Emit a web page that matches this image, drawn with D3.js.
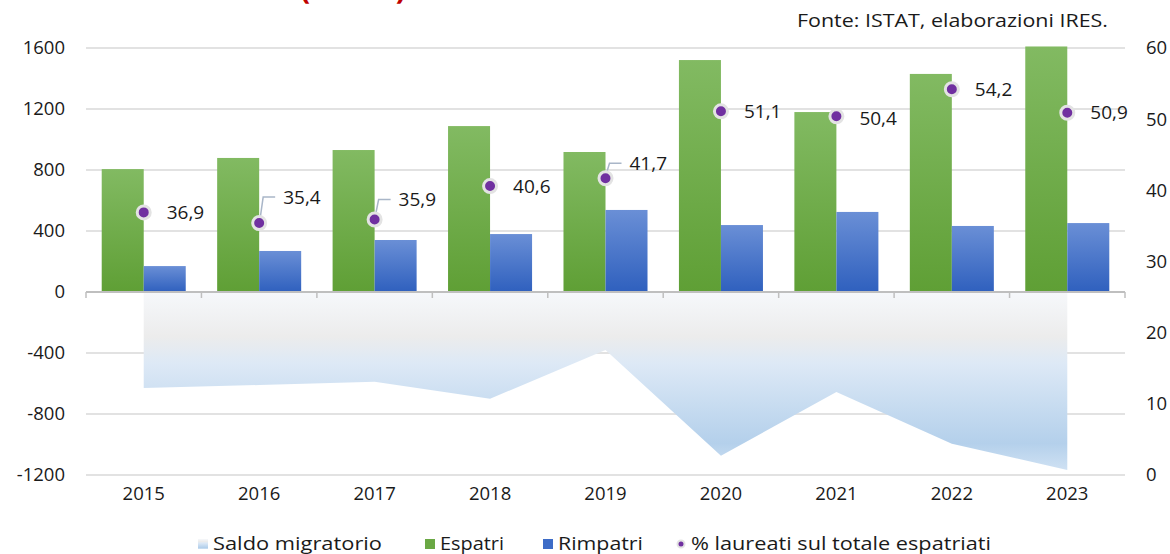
<!DOCTYPE html>
<html>
<head>
<meta charset="utf-8">
<script src="https://cdn.jsdelivr.net/npm/d3@7"></script>
<style>
  body { margin: 0; background: #fff; }
  svg { display: block; }
  svg text { font-family: "Century Gothic", "Open Sans", sans-serif; fill: #1a1a1a; }
</style>
</head>
<body>
<div id="chart"></div>
<script>
// Espatri / rimpatri, saldo e quota di laureati

var years = ["2015", "2016", "2017", "2018", "2019", "2020", "2021", "2022", "2023"];
var espatri = [806, 879, 931, 1088, 918, 1521, 1180, 1430, 1610];
var rimpatri = [170, 269, 341, 380, 538, 439, 525, 433, 452];
var saldo = [-630, -610, -588, -700, -380, -1073, -656, -995, -1167];
var laureati = [36.9, 35.4, 35.9, 40.6, 41.7, 51.1, 50.4, 54.2, 50.9];
var leftTicks = [1600, 1200, 800, 400, 0, -400, -800, -1200];
var rightTicks = [60, 50, 40, 30, 20, 10, 0];
// label vertical shift (px) for the callouts with leader lines
var labelShift = [0, -26, -20, 0, -15, 0, 2, 0, 0];

var W = 1170, H = 554;
var margin = { top: 48, right: 45, bottom: 79, left: 86 },
    width = W - margin.left - margin.right,
    height = H - margin.top - margin.bottom;

var svg = d3.select("#chart").append("svg")
    .attr("width", W)
    .attr("height", H);

var defs = svg.append("defs");

function grad(id, stops) {
    var g = defs.append("linearGradient").attr("id", id)
        .attr("x1", 0).attr("y1", 0).attr("x2", 0).attr("y2", 1);
    stops.forEach(function (s) {
        g.append("stop").attr("offset", s[0]).attr("stop-color", s[1]);
    });
}
grad("gGreen", [["0%", "#82ba62"], ["100%", "#5f9f35"]]);
grad("gBlue", [["0%", "#6a8fd6"], ["100%", "#2f60be"]]);
grad("gArea", [["0%", "#f6f8fb"], ["25%", "#ececec"], ["40%", "#dde9f6"], ["85%", "#b4d0eb"], ["100%", "#cfe1f3"]]);

// title, cut off at the top of the picture
svg.append("text")
    .attr("x", 300).attr("y", -1)
    .style("font-size", "30px").style("font-weight", "bold")
    .style("fill", "#c00000")
    .text("(valori)");

svg.append("text")
    .attr("x", 797).attr("y", 27)
    .attr("textLength", 311).attr("lengthAdjust", "spacingAndGlyphs")
    .style("font-size", "18px")
    .text("Fonte: ISTAT, elaborazioni IRES.");

var g = svg.append("g")
    .attr("transform", "translate(" + margin.left + "," + margin.top + ")");

// scales
var x = d3.scaleBand().domain(years).range([0, width]).padding(0);
var x1 = d3.scaleBand().domain(["esp", "rim"]).range([0, x.bandwidth()])
    .paddingInner(0).paddingOuter(0.374);
var y = d3.scaleLinear().domain([-1200, 1600]).range([height, 0]);
var y2 = d3.scaleLinear().domain([0, 60]).range([height, 0]);

// gridlines
g.append("g").selectAll("line")
    .data(leftTicks.filter(function (d) { return d !== 0; }))
    .join("line")
    .attr("x1", 0).attr("x2", width)
    .attr("y1", function (d) { return y(d); })
    .attr("y2", function (d) { return y(d); })
    .attr("stroke", "#d9d9d9")
    .attr("stroke-width", 1.5);

// saldo area
var area = d3.area()
    .x(function (d, i) { return x(years[i]) + x.bandwidth() / 2; })
    .y0(y(0))
    .y1(function (d) { return y(d); });

g.append("path")
    .datum(saldo)
    .attr("d", area)
    .attr("fill", "url(#gArea)");

// bars
var groups = g.append("g").selectAll("g")
    .data(years)
    .join("g")
    .attr("transform", function (d) { return "translate(" + x(d) + ",0)"; });

groups.append("rect")
    .attr("x", x1("esp"))
    .attr("width", x1.bandwidth())
    .attr("y", function (d, i) { return y(espatri[i]); })
    .attr("height", function (d, i) { return y(0) - y(espatri[i]); })
    .attr("fill", "url(#gGreen)");

groups.append("rect")
    .attr("x", x1("rim"))
    .attr("width", x1.bandwidth())
    .attr("y", function (d, i) { return y(rimpatri[i]); })
    .attr("height", function (d, i) { return y(0) - y(rimpatri[i]); })
    .attr("fill", "url(#gBlue)");

// category axis line at zero
g.append("line")
    .attr("x1", 0).attr("x2", width)
    .attr("y1", y(0)).attr("y2", y(0))
    .attr("stroke", "#bfbfbf").attr("stroke-width", 2);

var tickPos = years.map(function (d) { return x(d); }).concat([width]);
g.append("g").selectAll("line")
    .data(tickPos)
    .join("line")
    .attr("x1", function (d) { return d; }).attr("x2", function (d) { return d; })
    .attr("y1", y(0)).attr("y2", y(0) + 6)
    .attr("stroke", "#bfbfbf").attr("stroke-width", 1.5);

// year labels at bottom
var xAxis = g.append("g")
    .attr("transform", "translate(0," + (height + 6) + ")")
    .call(d3.axisBottom(x).tickSize(0).tickPadding(6));
xAxis.select(".domain").remove();
xAxis.selectAll("text").style("font-size", "18.5px").style("font-family", null).attr("fill", null);

// left axis
var yAxis = g.append("g")
    .call(d3.axisLeft(y).tickValues(leftTicks).tickFormat(function (d) { return String(d); })
        .tickSize(0).tickPadding(21));
yAxis.select(".domain").remove();
yAxis.selectAll("text").style("font-size", "18.5px").style("font-family", null).attr("fill", null);

// right axis
var y2Axis = g.append("g")
    .attr("transform", "translate(" + width + ",0)")
    .call(d3.axisRight(y2).tickValues(rightTicks).tickSize(0).tickPadding(21));
y2Axis.select(".domain").remove();
y2Axis.selectAll("text").style("font-size", "18.5px").style("font-family", null).attr("fill", null);

// leader lines for shifted labels
var cx = function (i) { return x(years[i]) + x.bandwidth() / 2; };
g.append("g").selectAll("path")
    .data(laureati.map(function (d, i) { return i; }).filter(function (i) { return labelShift[i] < -10; }))
    .join("path")
    .attr("d", function (i) {
        var py = y2(laureati[i]), ly = py + labelShift[i];
        return "M" + (cx(i) + 1) + "," + (py - 5) + "L" + (cx(i) + 4) + "," + ly + "L" + (cx(i) + 16) + "," + ly;
    })
    .attr("fill", "none")
    .attr("stroke", "#a9b6c8")
    .attr("stroke-width", 1.5);

// laureati dots
g.append("g").selectAll("circle")
    .data(laureati)
    .join("circle")
    .attr("cx", function (d, i) { return cx(i); })
    .attr("cy", function (d) { return y2(d); })
    .attr("r", 6.5)
    .attr("fill", "#7030a0")
    .attr("stroke", "#e3e3e3")
    .attr("stroke-width", 3);

g.append("g").selectAll("text")
    .data(laureati)
    .join("text")
    .attr("x", function (d, i) { return cx(i) + (labelShift[i] < -10 ? 24 : 23); })
    .attr("y", function (d, i) { return y2(d) + labelShift[i]; })
    .attr("dy", "0.35em")
    .style("font-size", "19px")
    .text(function (d) { return d3.format(".1f")(d).replace(".", ","); });

// legend
var legend = [
    { label: "Saldo migratorio", fill: "url(#gArea)", x: 198, w: 169, type: "rect" },
    { label: "Espatri", fill: "#6aa844", x: 425, w: 64, type: "rect" },
    { label: "Rimpatri", fill: "#3d6cc7", x: 543, w: 85, type: "rect" },
    { label: "% laureati sul totale espatriati", fill: "#7030a0", x: 677, w: 300, type: "dot" }
];
var lg = svg.append("g").selectAll("g")
    .data(legend)
    .join("g")
    .attr("transform", function (d) { return "translate(" + d.x + ",544)"; });

lg.filter(function (d) { return d.type === "rect"; })
    .append("rect")
    .attr("x", 0).attr("y", -5).attr("width", 10).attr("height", 10)
    .attr("fill", function (d) { return d.fill; });
lg.filter(function (d) { return d.type === "dot"; })
    .append("circle")
    .attr("cx", 4).attr("cy", 0).attr("r", 3.5)
    .attr("fill", "#7030a0").attr("stroke", "#e3e3e3").attr("stroke-width", 2);

lg.append("text")
    .attr("x", function (d) { return d.type === "dot" ? 14 : 15; })
    .attr("y", 6)
    .attr("textLength", function (d) { return d.w; })
    .attr("lengthAdjust", "spacingAndGlyphs")
    .style("font-size", "19px")
    .text(function (d) { return d.label; });
</script>
</body>
</html>
